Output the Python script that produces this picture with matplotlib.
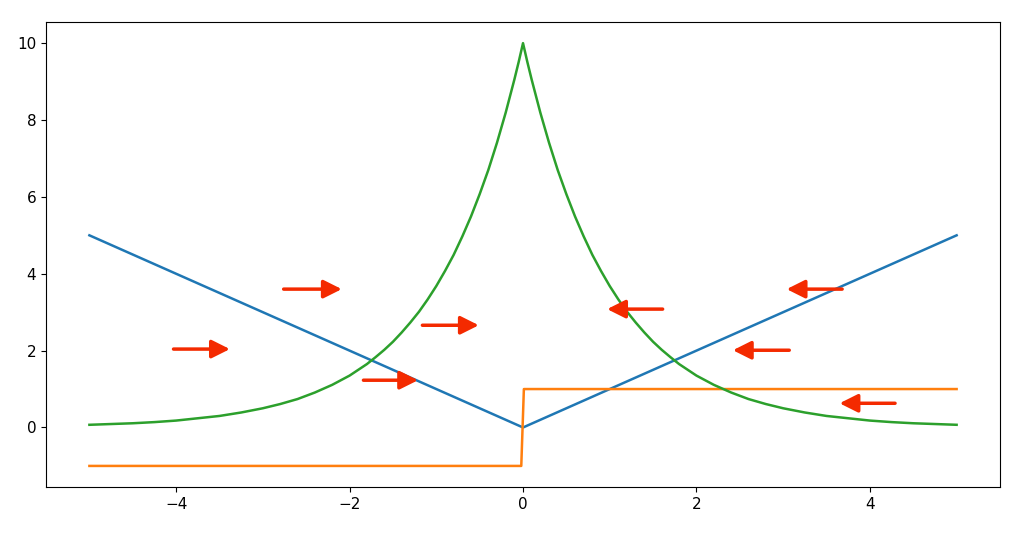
import matplotlib.pyplot as plt
import numpy as np

# blue V line
x_abs = [-5.0, 0.0, 5.0]
y_abs = [5.0, 0.0, 5.0]

# orange step
x_step = [-5.0, -0.02, 0.01, 5.0]
y_step = [-1.0, -1.0, 1.0, 1.0]

# green peak, right half (curve is symmetric)
x_half = [0.0, 0.05, 0.1, 0.2, 0.3, 0.4, 0.5, 0.6, 0.7, 0.8, 0.9, 1.0,
          1.1, 1.2, 1.3, 1.4, 1.5, 1.6, 1.7, 1.8, 1.9, 2.0, 2.2, 2.4,
          2.6, 2.8, 3.0, 3.25, 3.5, 3.75, 4.0, 4.25, 4.5, 4.75, 5.0]
y_half = [10.0, 9.51, 9.05, 8.19, 7.41, 6.70, 6.07, 5.49, 4.97, 4.49, 4.07, 3.68,
          3.33, 3.01, 2.73, 2.47, 2.23, 2.02, 1.83, 1.65, 1.50, 1.35, 1.11, 0.91,
          0.74, 0.61, 0.50, 0.39, 0.30, 0.24, 0.18, 0.14, 0.11, 0.09, 0.07]
x_peak = [-v for v in x_half[::-1]] + x_half[1:]
y_peak = y_half[::-1] + y_half[1:]

# red arrows: tail x, head x, y
arrow_tail = [-4.03, -2.76, -1.84, -1.16, 1.61, 3.68, 3.07, 4.29]
arrow_head = [-3.38, -2.09, -1.21, -0.51, 0.97, 3.04, 2.42, 3.65]
arrow_y = [2.04, 3.60, 1.23, 2.66, 3.08, 3.60, 2.01, 0.63]

fig = plt.figure(figsize=(10.23, 5.37), dpi=100)
ax = fig.add_axes([0.045, 0.093, 0.9325, 0.866])

ax.plot(x_abs, y_abs, color='C0', lw=1.8)
ax.plot(x_step, y_step, color='C1', lw=1.8)
ax.plot(x_peak, y_peak, color='C2', lw=1.8)

for xt, xh, y in zip(arrow_tail, arrow_head, arrow_y):
    ax.annotate('', xy=(xh, y), xytext=(xt, y),
                arrowprops=dict(arrowstyle='-|>,head_length=1.1,head_width=0.55',
                                lw=2.5, color='#f42a00', shrinkA=0, shrinkB=0,
                                mutation_scale=10))

ax.set_xticks([-4, -2, 0, 2, 4])
ax.set_yticks([0, 2, 4, 6, 8, 10])
ax.tick_params(labelsize=11)

plt.savefig("out.png")
